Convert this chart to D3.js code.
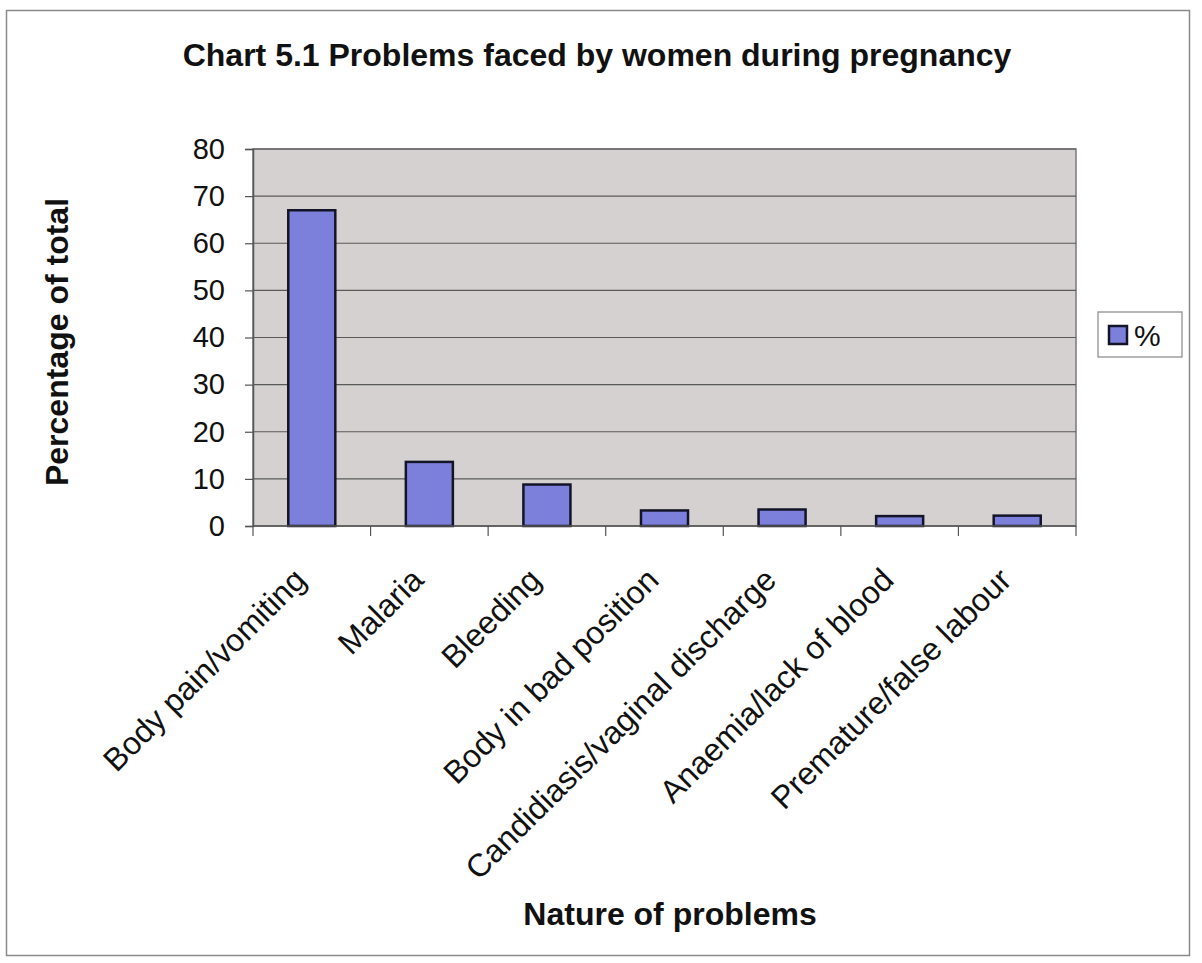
<!DOCTYPE html>
<html>
<head>
<meta charset="utf-8">
<script src="https://cdn.jsdelivr.net/npm/d3@7"></script>
<style>
  html, body { margin: 0; padding: 0; background: #ffffff; }
  svg { display: block; }
  text { font-family: "Liberation Sans", Arial, Helvetica, sans-serif; fill: #111; }
</style>
</head>
<body>
<svg id="chart" width="1202" height="963"></svg>
<script>
// Problems faced by women during pregnancy (percentage of total)
const categories = [
  "Body pain/vomiting",
  "Malaria",
  "Bleeding",
  "Body in bad position",
  "Candidiasis/vaginal discharge",
  "Anaemia/lack of blood",
  "Premature/false labour"
];
const seriesName = "%";
const values = [67.0, 13.6, 8.8, 3.3, 3.5, 2.1, 2.2];
const yTicks = [0, 10, 20, 30, 40, 50, 60, 70, 80];

const titleText = "Chart 5.1 Problems faced by women during pregnancy";
const xTitle = "Nature of problems";
const yTitle = "Percentage of total";

const svg = d3.select("#chart");
const plot = { left: 253, right: 1076, top: 149, bottom: 526 };

// outer chart frame
svg.append("rect")
  .attr("x", 6.5).attr("y", 10.5)
  .attr("width", 1183).attr("height", 945)
  .attr("fill", "#ffffff")
  .attr("stroke", "#8a8a8a").attr("stroke-width", 1.5);

const x = d3.scaleBand()
  .domain(categories)
  .range([plot.left, plot.right])
  .paddingInner(0.6)
  .paddingOuter(0.3);

const xBoundary = d3.scaleLinear()
  .domain([0, categories.length])
  .range([plot.left, plot.right]);

const y = d3.scaleLinear()
  .domain([0, 80])
  .range([plot.bottom, plot.top]);

// plot area background
svg.append("rect")
  .attr("x", plot.left).attr("y", plot.top)
  .attr("width", plot.right - plot.left)
  .attr("height", plot.bottom - plot.top)
  .attr("fill", "#d5d1d1")
  .attr("stroke", "#7a7a7a").attr("stroke-width", 1.5);

// y axis with outward ticks
const yAxis = d3.axisLeft(y)
  .tickValues(yTicks)
  .tickSize(8)
  .tickPadding(20);

const gy = svg.append("g")
  .attr("transform", `translate(${plot.left},0)`)
  .call(yAxis);
gy.select(".domain").attr("stroke", "#555").attr("stroke-width", 1.5);
gy.selectAll(".tick line").attr("stroke", "#555").attr("stroke-width", 1.2);
gy.selectAll(".tick text")
  .attr("font-size", 29)
  .attr("fill", "#111")
  .style("font-family", "'Liberation Sans', Arial, sans-serif");

// horizontal gridlines
svg.append("g")
  .selectAll("line")
  .data(yTicks.filter(t => t > 0))
  .join("line")
  .attr("x1", plot.left).attr("x2", plot.right)
  .attr("y1", d => y(d)).attr("y2", d => y(d))
  .attr("stroke", "#5a5a5a").attr("stroke-width", 1.2);

// bars
svg.append("g")
  .selectAll("rect")
  .data(values)
  .join("rect")
  .attr("x", (d, i) => x(categories[i]))
  .attr("y", d => y(d))
  .attr("width", x.bandwidth())
  .attr("height", d => y(0) - y(d))
  .attr("fill", "#7c80da")
  .attr("stroke", "#141428")
  .attr("stroke-width", 2.5);

// x axis line and ticks at category boundaries
svg.append("line")
  .attr("x1", plot.left).attr("x2", plot.right)
  .attr("y1", plot.bottom).attr("y2", plot.bottom)
  .attr("stroke", "#555").attr("stroke-width", 1.5);

svg.append("g")
  .selectAll("line")
  .data(d3.range(categories.length + 1))
  .join("line")
  .attr("x1", d => xBoundary(d)).attr("x2", d => xBoundary(d))
  .attr("y1", plot.bottom).attr("y2", plot.bottom + 10)
  .attr("stroke", "#555").attr("stroke-width", 1.2);

// rotated category labels
svg.append("g")
  .selectAll("text")
  .data(categories)
  .join("text")
  .attr("transform", d => `translate(${x(d) + x.bandwidth() / 2 - 4},${plot.bottom + 56}) rotate(-45)`)
  .attr("text-anchor", "end")
  .attr("font-size", 32)
  .text(d => d);

// titles
svg.append("text")
  .attr("x", 597).attr("y", 66)
  .attr("text-anchor", "middle")
  .attr("font-size", 32)
  .attr("font-weight", "bold")
  .text(titleText);

svg.append("text")
  .attr("x", 670).attr("y", 925)
  .attr("text-anchor", "middle")
  .attr("font-size", 32)
  .attr("font-weight", "bold")
  .text(xTitle);

svg.append("text")
  .attr("transform", "translate(68,342) rotate(-90)")
  .attr("text-anchor", "middle")
  .attr("font-size", 32)
  .attr("font-weight", "bold")
  .text(yTitle);

// legend
const legend = svg.append("g").attr("transform", "translate(1098,312)");
legend.append("rect")
  .attr("width", 84).attr("height", 45)
  .attr("fill", "#ffffff")
  .attr("stroke", "#888").attr("stroke-width", 1.2);
legend.append("rect")
  .attr("x", 11).attr("y", 14)
  .attr("width", 18).attr("height", 18)
  .attr("fill", "#7c80da")
  .attr("stroke", "#141428").attr("stroke-width", 2.5);
legend.append("text")
  .attr("x", 36).attr("y", 34)
  .attr("font-size", 30)
  .text(seriesName);
</script>
</body>
</html>
